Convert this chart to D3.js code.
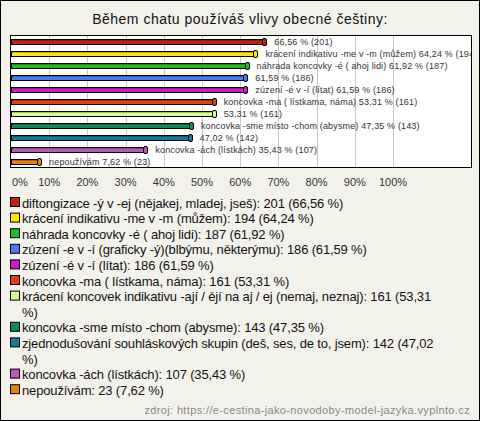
<!DOCTYPE html>
<html><head><meta charset="utf-8">
<script src="https://cdn.jsdelivr.net/npm/d3@7"></script>
<style>
html,body{margin:0;padding:0;background:#f3f2ea;}
svg{display:block;font-family:"Liberation Sans",Arial,sans-serif;}
</style></head><body>
<svg id="c" width="480" height="421"></svg>
<script>
const title = "Během chatu používáš vlivy obecné češtiny:";
const categories = [
 "diftongizace -ý v -ej (nějakej, mladej, jseš)",
 "krácení indikativu -me v -m (můžem)",
 "náhrada koncovky -é ( ahoj lidi)",
 "zúzení -e v -í (graficky -ý)(blbýmu, některýmu)",
 "zúzení -é v -í (lítat)",
 "koncovka -ma ( lístkama, náma)",
 "krácení koncovek indikativu -ají / ějí na aj / ej (nemaj, neznaj)",
 "koncovka -sme místo -chom (abysme)",
 "zjednodušování souhláskových skupin (deš, ses, de to, jsem)",
 "koncovka -ách (lístkách)",
 "nepoužívám"
];
const counts = [201,194,187,186,186,161,161,143,142,107,23];
const percents = [66.56,64.24,61.92,61.59,61.59,53.31,53.31,47.35,47.02,35.43,7.62];
const barNames = [
 "", "krácení indikativu -me v -m (můžem)", "náhrada koncovky -é ( ahoj lidi)", "",
 "zúzení -é v -í (lítat)", "koncovka -ma ( lístkama, náma)", "",
 "koncovka -sme místo -chom (abysme)", "", "koncovka -ách (lístkách)", "nepoužívám"
];
const colors = ["#c8200e","#ffe600","#1fbb1f","#4a7cf0","#c81ec8","#e0420e","#d4ff8c","#13885a","#157a96","#b858b8","#e8800e"];
const ticks = [0,10,20,30,40,50,60,70,80,90,100];
const source = "zdroj: https://e-cestina-jako-novodoby-model-jazyka.vyplnto.cz";

const fmt = v => v.toFixed(2).replace(".", ",");
const svg = d3.select("#c");
svg.append("rect").attr("x",0.5).attr("y",0.5).attr("width",479).attr("height",420)
  .attr("fill","#f3f2ea").attr("stroke","#000");

svg.append("text").attr("x",240).attr("y",24).attr("text-anchor","middle")
  .attr("font-size",14).attr("letter-spacing",0.5).attr("fill","#111").text(title);

const L=10.5, R=471.5, T=35.5, B=167.5;
const x = d3.scaleLinear().domain([0,100]).range([L+0.5, L+0.5+382]);
const y = d3.scaleBand().domain(d3.range(categories.length)).range([T,B]);

const plot = svg.append("g");
plot.append("rect").attr("x",L).attr("y",T).attr("width",R-L).attr("height",B-T).attr("fill","#fff");
plot.selectAll("line.g").data(ticks.slice(1)).join("line")
  .attr("x1",d=>Math.round(x(d))+0.5).attr("x2",d=>Math.round(x(d))+0.5)
  .attr("y1",T).attr("y2",B).attr("stroke","#c8c8c8");

svg.append("clipPath").attr("id","cp").append("rect").attr("x",0).attr("y",0).attr("width",R).attr("height",421);

const bars = plot.selectAll("g.b").data(percents).join("g");
const bh = 5;
const by = i => Math.round(y(i)+y.bandwidth()/2-bh/2)+0.5;
bars.append("rect")
  .attr("x",x(0)+0.5).attr("y",(d,i)=>by(i))
  .attr("width",d=>x(d)-x(0)).attr("height",bh)
  .attr("fill",(d,i)=>colors[i]).attr("stroke","#000");
bars.append("line")
  .attr("x1",x(0)+1).attr("x2",d=>x(d))
  .attr("y1",(d,i)=>by(i)+1).attr("y2",(d,i)=>by(i)+1)
  .attr("stroke",(d,i)=>d3.color(colors[i]).darker(0.8));
bars.append("rect")
  .attr("x",d=>Math.round(x(d))-2.5).attr("y",(d,i)=>by(i)-1)
  .attr("width",4).attr("height",bh+2).attr("rx",1.5)
  .attr("fill",(d,i)=>colors[i]).attr("stroke","#000");
bars.append("text")
  .attr("x",d=>x(d)+9).attr("y",(d,i)=>y(i)+y.bandwidth()/2+3)
  .attr("font-size",9).attr("letter-spacing",0.15).attr("fill","#333")
  .attr("clip-path","url(#cp)")
  .text((d,i)=>(barNames[i]?barNames[i]+" ":"")+fmt(d)+" % ("+counts[i]+")");

plot.append("rect").attr("x",L).attr("y",T).attr("width",R-L).attr("height",B-T)
  .attr("fill","none").attr("stroke","#000");

svg.selectAll("text.t").data(ticks).join("text")
  .attr("x",d=>d===0?x(0)+1:x(d)).attr("y",186)
  .attr("text-anchor",d=>d===0?"start":"middle")
  .attr("font-size",11).attr("fill","#333").text(d=>d+"%");

// legend
const lg = svg.append("g");
let yy = 203;
const lh = 15.6, maxW = 412;
categories.forEach((c,i)=>{
  const full = c+": "+counts[i]+" ("+fmt(percents[i])+" %)";
  lg.append("rect").attr("x",10.5).attr("y",yy-5.5).attr("width",9).attr("height",9)
    .attr("fill",colors[i]).attr("stroke","#000");
  const words = full.split(" ");
  let line = "";
  const t = lg.append("text").attr("x",22).attr("y",yy+4.5).attr("font-size",13)
    .attr("letter-spacing",-0.15).attr("fill","#111");
  const lines=[];
  words.forEach(w=>{
    const test = line? line+" "+w : w;
    t.text(test);
    if(t.node().getComputedTextLength()>maxW && line){ lines.push(line); line=w; } else line=test;
  });
  lines.push(line);
  t.text(null);
  lines.forEach((ln,k)=>{
    t.append("tspan").attr("x",22).attr("dy",k?lh:0).text(ln);
  });
  yy += lh*lines.length;
});

svg.append("text").attr("x",470).attr("y",414).attr("text-anchor","end")
  .attr("font-size",11).attr("letter-spacing",0.36).attr("fill","#888").text(source);
</script></body></html>
